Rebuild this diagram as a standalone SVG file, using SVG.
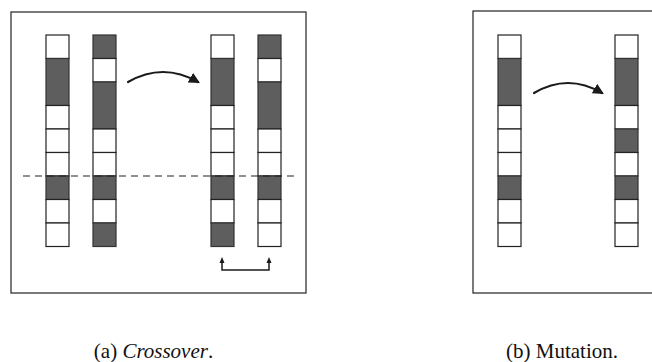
<svg xmlns="http://www.w3.org/2000/svg" width="652" height="362" viewBox="0 0 652 362">
<style>
.frame{fill:#fff;stroke:#333;stroke-width:1.3}
.w{fill:#fff;stroke:#222;stroke-width:1.2}
.d{fill:#5e5e5e;stroke:#333;stroke-width:1.2}
.cur{fill:none;stroke:#1a1a1a;stroke-width:2.2;stroke-linecap:round}
.br{fill:none;stroke:#1a1a1a;stroke-width:1.5}
.dash{stroke:#222;stroke-width:1.2;stroke-dasharray:7 5}
.cap{font-family:"Liberation Serif",serif;font-size:21px;fill:#111;text-anchor:middle}
</style>
<defs>
<marker id="ah" viewBox="0 0 10 10" refX="8" refY="5" markerWidth="5" markerHeight="5" orient="auto" markerUnits="strokeWidth">
<path d="M0,0 L10,5 L0,10 z" fill="#1a1a1a"/>
</marker>
<marker id="ahs" viewBox="0 0 10 10" refX="8" refY="5" markerWidth="5" markerHeight="5" orient="auto" markerUnits="strokeWidth">
<path d="M0,0 L10,5 L0,10 z" fill="#1a1a1a"/>
</marker>
</defs>
<rect width="652" height="362" fill="#fff"/>
<g id="frame-a"><rect class="frame" x="11" y="12" width="295" height="281"/></g>
<g id="frame-b"><rect class="frame" x="473" y="11" width="200" height="282"/></g>

<g id="parent1">
<rect class="w" x="46" y="35" width="23" height="23.5"/>
<rect class="d" x="46" y="58.5" width="23" height="47"/>
<rect class="w" x="46" y="105.5" width="23" height="23.5"/>
<rect class="w" x="46" y="129" width="23" height="23.5"/>
<rect class="w" x="46" y="152.5" width="23" height="23.5"/>
<rect class="d" x="46" y="176" width="23" height="23.5"/>
<rect class="w" x="46" y="199.5" width="23" height="23.5"/>
<rect class="w" x="46" y="223" width="23" height="23.5"/>
</g>
<g id="parent2">
<rect class="d" x="93" y="35" width="23" height="23.5"/>
<rect class="w" x="93" y="58.5" width="23" height="23.5"/>
<rect class="d" x="93" y="82" width="23" height="47"/>
<rect class="w" x="93" y="129" width="23" height="23.5"/>
<rect class="w" x="93" y="152.5" width="23" height="23.5"/>
<rect class="d" x="93" y="176" width="23" height="23.5"/>
<rect class="w" x="93" y="199.5" width="23" height="23.5"/>
<rect class="d" x="93" y="223" width="23" height="23.5"/>
</g>
<g id="child1">
<rect class="w" x="211" y="35" width="23" height="23.5"/>
<rect class="d" x="211" y="58.5" width="23" height="47"/>
<rect class="w" x="211" y="105.5" width="23" height="23.5"/>
<rect class="w" x="211" y="129" width="23" height="23.5"/>
<rect class="w" x="211" y="152.5" width="23" height="23.5"/>
<rect class="d" x="211" y="176" width="23" height="23.5"/>
<rect class="w" x="211" y="199.5" width="23" height="23.5"/>
<rect class="d" x="211" y="223" width="23" height="23.5"/>
</g>
<g id="child2">
<rect class="d" x="258" y="35" width="23" height="23.5"/>
<rect class="w" x="258" y="58.5" width="23" height="23.5"/>
<rect class="d" x="258" y="82" width="23" height="47"/>
<rect class="w" x="258" y="129" width="23" height="23.5"/>
<rect class="w" x="258" y="152.5" width="23" height="23.5"/>
<rect class="d" x="258" y="176" width="23" height="23.5"/>
<rect class="w" x="258" y="199.5" width="23" height="23.5"/>
<rect class="w" x="258" y="223" width="23" height="23.5"/>
</g>

<g id="original">
<rect class="w" x="498" y="35" width="23" height="23.5"/>
<rect class="d" x="498" y="58.5" width="23" height="47"/>
<rect class="w" x="498" y="105.5" width="23" height="23.5"/>
<rect class="w" x="498" y="129" width="23" height="23.5"/>
<rect class="w" x="498" y="152.5" width="23" height="23.5"/>
<rect class="d" x="498" y="176" width="23" height="23.5"/>
<rect class="w" x="498" y="199.5" width="23" height="23.5"/>
<rect class="w" x="498" y="223" width="23" height="23.5"/>
</g>
<g id="mutated">
<rect class="w" x="615" y="35" width="23" height="23.5"/>
<rect class="d" x="615" y="58.5" width="23" height="47"/>
<rect class="w" x="615" y="105.5" width="23" height="23.5"/>
<rect class="d" x="615" y="129" width="23" height="23.5"/>
<rect class="w" x="615" y="152.5" width="23" height="23.5"/>
<rect class="d" x="615" y="176" width="23" height="23.5"/>
<rect class="w" x="615" y="199.5" width="23" height="23.5"/>
<rect class="w" x="615" y="223" width="23" height="23.5"/>
</g>

<g id="connectors">
<line class="dash" x1="23" y1="176" x2="298" y2="176"/>
<path class="cur" d="M128,82 Q163,62 198,82" marker-end="url(#ah)"/>
<path class="cur" d="M534,93 Q568,73 602,93" marker-end="url(#ah)"/>
<path class="br" d="M222,262 V270 H269 V262"/>
<path d="M222,257 L219.5,263 L224.5,263 z" fill="#1a1a1a"/>
<path d="M269,257 L266.5,263 L271.5,263 z" fill="#1a1a1a"/>
</g>

<text class="cap" x="153.5" y="358">(a) <tspan font-style="italic">Crossover</tspan>.</text>
<text class="cap" x="562" y="358">(b) Mutation.</text>
</svg>
